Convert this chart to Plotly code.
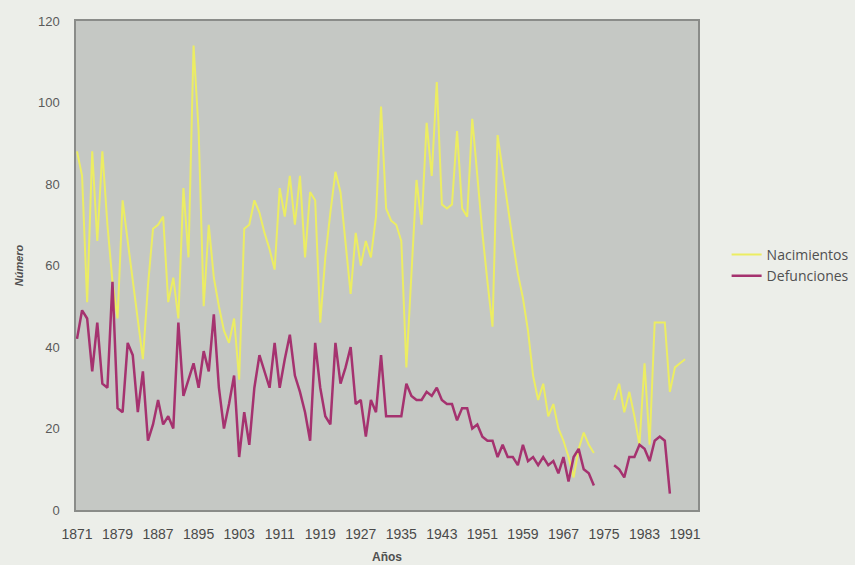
import plotly.graph_objects as go

# ---------------- data ----------------
years = list(range(1871, 1992))

nacimientos = (
    [88, 82, 51, 88, 66, 88, 70, 56, 47, 76, 66, 56, 46, 37, 55, 69, 70, 72, 51, 57]   # 1871-1890
    + [47, 79, 62, 114, 93, 50, 70, 57, 50, 44]                                        # 1891-1900
    + [41, 47, 32, 69, 70, 76, 73, 68, 64, 59]                                          # 1901-1910
    + [79, 72, 82, 70, 82, 62, 78, 76, 46, 62]                                          # 1911-1920
    + [73, 83, 78, 66, 53, 68, 60, 66, 62, 72]                                          # 1921-1930
    + [99, 74, 71, 70, 66, 35, 58, 81, 70, 95]                                          # 1931-1940
    + [82, 105, 75, 74, 75, 93, 74, 72, 96, 81]                                         # 1941-1950
    + [68, 56, 45, 92, 83, 75, 66, 58, 52, 44]                                          # 1951-1960
    + [33, 27, 31, 23, 26, 20, 17, 13, 8, 15]                                           # 1961-1970
    + [19, 16, 14]                                                                      # 1971-1973
    + [None, None, None]                                                                # 1974-1976
    + [27, 31, 24, 29, 23, 16, 36, 16, 46, 46, 46, 29, 35, 36, 37]                      # 1977-1991
)

defunciones = (
    [42, 49, 47, 34, 46, 31, 30, 56, 25, 24, 41, 38, 24, 34, 17, 21, 27, 21, 23, 20]   # 1871-1890
    + [46, 28, 32, 36, 30, 39, 34, 48, 30, 20]                                          # 1891-1900
    + [26, 33, 13, 24, 16, 30, 38, 34, 30, 41]                                          # 1901-1910
    + [30, 37, 43, 33, 29, 24, 17, 41, 30, 23]                                          # 1911-1920
    + [21, 41, 31, 35, 40, 26, 27, 18, 27, 24]                                          # 1921-1930
    + [38, 23, 23, 23, 23, 31, 28, 27, 27, 29]                                          # 1931-1940
    + [28, 30, 27, 26, 26, 22, 25, 25, 20, 21]                                          # 1941-1950
    + [18, 17, 17, 13, 16, 13, 13, 11, 16, 12]                                          # 1951-1960
    + [13, 11, 13, 11, 12, 9, 13, 7, 13, 15]                                            # 1961-1970
    + [10, 9, 6]                                                                        # 1971-1973
    + [None, None, None]                                                                # 1974-1976
    + [11, 10, 8, 13, 13, 16, 15, 12, 17, 18, 17, 4]                                    # 1977-1988
    + [None, None, None]                                                                # 1989-1991
)

x_tick_years = list(range(1871, 1992, 8))
x_tick_labels = [str(y) for y in x_tick_years]
y_tick_values = [0, 20, 40, 60, 80, 100, 120]

# ---------------- style ----------------
PAPER = "#eceee9"
PLOT_BG = "#c5c8c4"
FRAME = "#8a8c89"
YELLOW = "#eced62"
MAGENTA = "#a5326f"
TEXT = "#555555"

fig = go.Figure()
fig.add_trace(go.Scatter(
    x=years, y=nacimientos, name="Nacimientos", mode="lines",
    line=dict(color=YELLOW, width=2), connectgaps=False,
))
fig.add_trace(go.Scatter(
    x=years, y=defunciones, name="Defunciones", mode="lines",
    line=dict(color=MAGENTA, width=2.5), connectgaps=False,
))

fig.update_layout(
    width=855, height=565,
    margin=dict(l=76, r=157, t=21, b=55, autoexpand=False),
    paper_bgcolor=PAPER,
    plot_bgcolor=PLOT_BG,
    font=dict(family="Liberation Sans, Arial, sans-serif", color=TEXT),
    showlegend=True,
    legend=dict(
        x=1.046, xanchor="left", y=0.50, yanchor="middle",
        bgcolor="rgba(0,0,0,0)", borderwidth=0,
        font=dict(family="Open Sans, sans-serif", size=14, color="#505050"),
        itemwidth=30,
    ),
    xaxis=dict(
        range=[1870.8, 1993.55],
        tickvals=x_tick_years, ticktext=x_tick_labels,
        tickfont=dict(size=14, color="#4a4a4a"),
        ticks="", ticklabelstandoff=10,
        showgrid=False, zeroline=False,
        showline=True, mirror=True, linecolor=FRAME, linewidth=1.5,
        title=dict(text="<b>Años</b>", font=dict(size=12, color="#505050"), standoff=12),
        automargin=False,
    ),
    yaxis=dict(
        range=[0, 120],
        tickvals=y_tick_values,
        tickfont=dict(size=13, color="#5a5a5a"),
        ticks="", ticklabelstandoff=12,
        showgrid=False, zeroline=False,
        showline=True, mirror=True, linecolor=FRAME, linewidth=1.5,
        title=dict(text="<b><i>Número</i></b>", font=dict(size=11, color="#505050"), standoff=12),
        automargin=False,
    ),
)

fig.write_html(
    "out.html",
    config={"displayModeBar": False},
    post_script="document.body.style.margin='0';document.body.style.overflow='hidden';",
)
